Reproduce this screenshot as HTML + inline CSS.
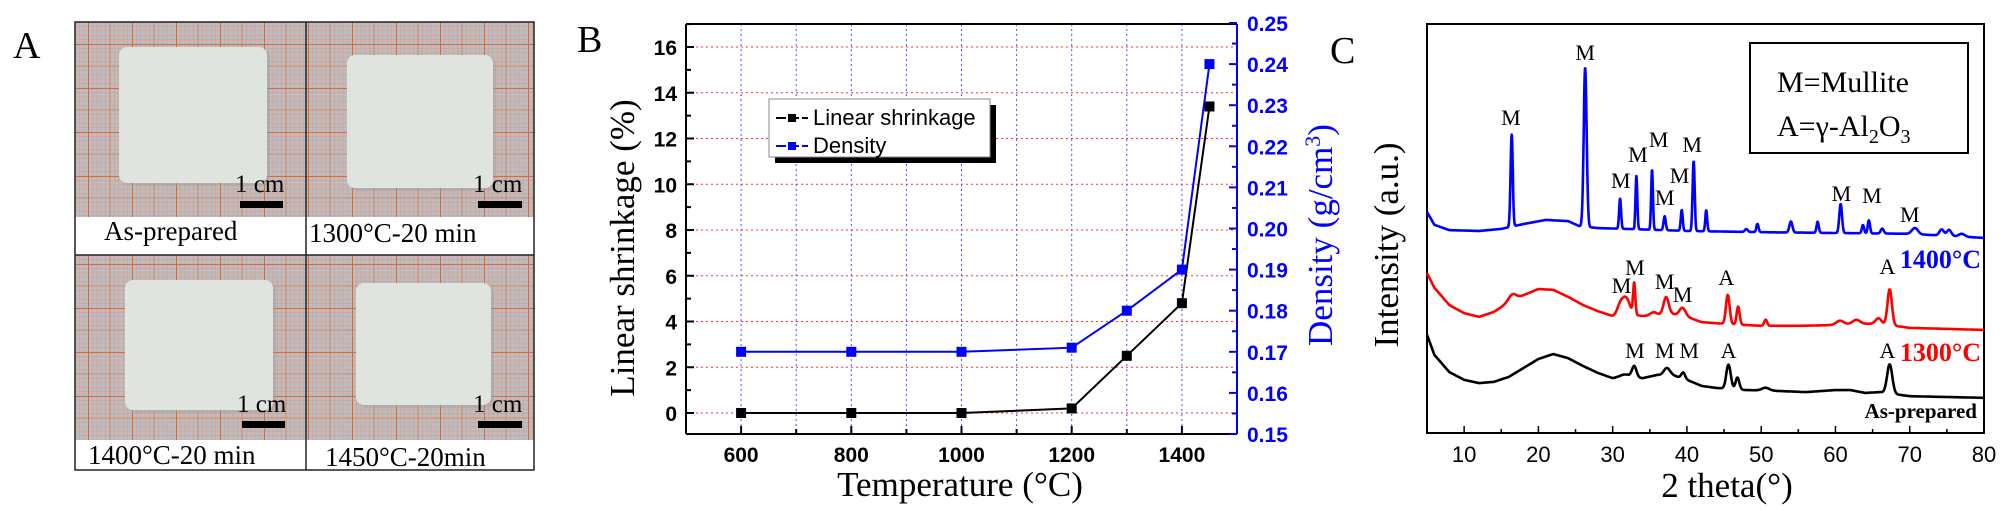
<!DOCTYPE html>
<html><head><meta charset="utf-8">
<style>
html,body{margin:0;padding:0;background:#fff;}
svg{display:block;}
.serif{font-family:"Liberation Serif",serif;}
.sans{font-family:"Liberation Sans",sans-serif;}
</style></head>
<body>
<svg id="fig" width="2005" height="510" viewBox="0 0 2005 510" xmlns="http://www.w3.org/2000/svg">
<defs>
<pattern id="grid" x="0" y="0" width="44" height="44" patternUnits="userSpaceOnUse">
<rect width="44" height="44" fill="#bdbcc0"/>
<path d="M4.4 0V44M8.8 0V44M13.2 0V44M17.6 0V44M26.4 0V44M30.8 0V44M35.2 0V44M39.6 0V44M0 4.4H44M0 8.8H44M0 13.2H44M0 17.6H44M0 26.4H44M0 30.8H44M0 35.2H44M0 39.6H44" stroke="#cfa394" stroke-width="0.7"/>
<path d="M22 0V44M0 22H44" stroke="#d88a60" stroke-width="1.1"/>
<path d="M0 0V44M0 0H44" stroke="#dc6a30" stroke-width="2"/>
</pattern>
</defs>

<!-- Panel A -->
<g>
<text class="serif" x="13" y="58" font-size="38">A</text>
<rect x="75" y="22" width="231" height="195" fill="url(#grid)"/>
<rect x="306" y="22" width="228" height="195" fill="url(#grid)"/>
<rect x="75" y="255" width="231" height="185" fill="url(#grid)"/>
<rect x="306" y="255" width="228" height="185" fill="url(#grid)"/>
<rect x="122" y="50" width="148" height="136" rx="8" fill="#9a9a9c" opacity="0.35"/>
<rect x="119" y="47" width="148" height="136" rx="8" fill="#dfe4de"/>
<rect x="350" y="58" width="146" height="133" rx="8" fill="#9a9a9c" opacity="0.35"/>
<rect x="347" y="55" width="146" height="133" rx="8" fill="#dfe4de"/>
<rect x="128" y="283" width="148" height="130" rx="8" fill="#9a9a9c" opacity="0.35"/>
<rect x="125" y="280" width="148" height="130" rx="8" fill="#dfe4de"/>
<rect x="359" y="286" width="135" height="122" rx="8" fill="#9a9a9c" opacity="0.35"/>
<rect x="356" y="283" width="135" height="122" rx="8" fill="#dfe4de"/>
<rect x="75" y="217" width="459" height="38" fill="#fff"/>
<rect x="75" y="440" width="459" height="30" fill="#fff"/>
<g class="serif" font-size="25" fill="#000">
<text x="235" y="192">1 cm</text>
<text x="473" y="192">1 cm</text>
<text x="237" y="412">1 cm</text>
<text x="473" y="412">1 cm</text>
</g>
<rect x="240" y="201" width="43" height="7" fill="#000"/>
<rect x="478" y="201" width="44" height="7" fill="#000"/>
<rect x="242" y="421" width="43" height="7" fill="#000"/>
<rect x="478" y="421" width="44" height="7" fill="#000"/>
<g class="serif" font-size="27" fill="#000">
<text x="104" y="240">As-prepared</text>
<text x="309" y="242">1300°C-20 min</text>
<text x="88" y="464">1400°C-20 min</text>
<text x="325" y="466">1450°C-20min</text>
</g>
<rect x="75" y="22" width="459" height="448" fill="none" stroke="#222" stroke-width="1.5"/>
<line x1="306" y1="22" x2="306" y2="470" stroke="#222" stroke-width="1.5"/>
<line x1="75" y1="255" x2="534" y2="255" stroke="#222" stroke-width="1.5"/>
</g>

<g id="panelB"></g>
<g id="panelC"></g>
</svg>

<script>
// ---------- Panel B data ----------
const temps = [600, 800, 1000, 1200, 1300, 1400, 1450];
const shrinkage = [0, 0, 0, 0.2, 2.5, 4.8, 13.4];
const density = [0.170, 0.170, 0.170, 0.171, 0.180, 0.190, 0.240];
const xTicksB = [600, 800, 1000, 1200, 1400];
const yTicksL = [0, 2, 4, 6, 8, 10, 12, 14, 16];
const yTicksR = [0.15, 0.16, 0.17, 0.18, 0.19, 0.20, 0.21, 0.22, 0.23, 0.24, 0.25];

// ---------- Panel C data ----------
const xTicksC = [10, 20, 30, 40, 50, 60, 70, 80];
const bg1400 = [[5,54.0],[6,50.9],[8,49.6],[12,49.4],[15,49.9],[18,51.1],[21,52.1],[24,51.8],[25.5,50.6],[28,50.1],[32,49.9],[40,49.4],[50,49.1],[60,48.9],[70,48.7],[80,47.7]];
const peaks1400 = [[16.4,22.5,0.15],[26.3,38.9,0.2],[31,7.3,0.13],[33.2,13.0,0.12],[35.3,14.7,0.12],[37,3.4,0.15],[39.3,5.1,0.13],[40.9,17.1,0.14],[42.6,5.1,0.13],[48,0.7,0.2],[49.5,2.0,0.15],[54,2.7,0.2],[57.6,2.7,0.15],[60.7,7.1,0.18],[63.7,2.0,0.15],[64.5,3.2,0.15],[66.3,1.2,0.2],[70.7,1.5,0.4],[74.3,1.5,0.3],[75.3,1.5,0.3],[77,0.7,0.4]];
const bg1300 = [[5,39.1],[6,35.5],[8,31.3],[10,29.3],[12,28.4],[14,29.6],[16,32.0],[18,33.7],[20,35.2],[22,35.0],[24,33.3],[26,31.3],[28,29.8],[30,28.6],[32,29.1],[34,28.6],[36,28.9],[38,29.1],[40,28.4],[42,27.1],[45,26.7],[50,26.2],[55,26.2],[60,26.4],[63,26.7],[65,26.7],[68,26.2],[70,25.7],[80,25.2]];
const peaks1300 = [[16.5,1.5,0.5],[31,2.2,0.4],[31.8,3.9,0.5],[32.9,7.6,0.15],[35.5,0.7,0.4],[37.2,4.2,0.35],[39.4,2.0,0.4],[45.5,7.1,0.25],[46.9,4.4,0.2],[50.6,1.5,0.2],[60.6,1.0,0.5],[62.8,1.0,0.5],[65.8,1.5,0.4],[67.3,8.8,0.3]];
const bgAs = [[5,24.0],[6,19.1],[8,14.9],[10,13.0],[12,12.2],[14,12.5],[16,13.7],[18,15.9],[20,18.1],[22,19.3],[24,18.3],[26,16.4],[28,14.7],[30,13.4],[32,13.9],[34,13.4],[36,14.2],[38,14.2],[40,13.0],[42,11.5],[44,11.0],[48,10.5],[52,10.3],[56,10.0],[60,10.5],[62,10.5],[64,9.8],[66,10.0],[70,9.0],[75,8.8],[80,8.6]];
const peaksAs = [[31.5,0.5,0.6],[32.9,2.7,0.3],[37.3,1.7,0.4],[39.5,1.5,0.25],[45.6,5.9,0.3],[46.8,2.9,0.25],[50.6,0.7,0.5],[67.3,7.1,0.35]];
const labels1400 = [[16.3,'M',125],[26.3,'M',60],[31.1,'M',188],[33.4,'M',162],[36.2,'M',147],[37,'M',205],[39,'M',183],[40.7,'M',152],[60.8,'M',201],[64.9,'M',203],[70,'M',222]];
const labels1300 = [[31.2,'M',293],[33,'M',275],[37,'M',289],[39.4,'M',302],[45.3,'A',285],[67,'A',274]];
const labelsAs = [[33,'M',358],[37,'M',358],[40.3,'M',358],[45.6,'A',358],[67,'A',358]];

const NS = 'http://www.w3.org/2000/svg';
function mk(parent, tag, attrs, text) {
  const e = document.createElementNS(NS, tag);
  for (const k in attrs) e.setAttribute(k, attrs[k]);
  if (text !== undefined) e.textContent = text;
  parent.appendChild(e);
  return e;
}

// ===== Panel B =====
const B = document.getElementById('panelB');
const bx0 = 686, bx1 = 1237, by0 = 24, by1 = 434;
const xB = t => bx0 + (t - 500) / 1000 * (bx1 - bx0);
const yL = v => 413 - v * 22.875;
const yR = v => 434 - (v - 0.15) * 4110;

let e;
e = mk(B, 'text', {x: 577, y: 52, 'font-size': 38, class: 'serif'}, 'B');



for (let t = 600; t <= 1400; t += 100) {
  e = mk(B, 'line', {x1: xB(t), x2: xB(t), y1: by0, y2: by1, stroke: '#5050ff', 'stroke-width': 1, 'stroke-dasharray': '2,3'});
  
  
}
yTicksL.forEach(v => {
  e = mk(B, 'line', {x1: bx0, x2: bx1, y1: yL(v), y2: yL(v), stroke: '#ff3030', 'stroke-width': 1, 'stroke-dasharray': '2,3'});
  
  
});
mk(B, 'line', {x1: bx0, x2: bx1, y1: by0, y2: by0, stroke: '#000', 'stroke-width': 2});
mk(B, 'line', {x1: bx0, x2: bx1, y1: by1, y2: by1, stroke: '#000', 'stroke-width': 2});
mk(B, 'line', {x1: bx0, x2: bx0, y1: by0, y2: by1, stroke: '#000', 'stroke-width': 2});
mk(B, 'line', {x1: bx1, x2: bx1, y1: by0, y2: by1, stroke: '#0000ff', 'stroke-width': 2});
for (let t = 600; t <= 1400; t += 100) {
  const major = (t % 200 === 0);
  mk(B, 'line', {x1: xB(t), x2: xB(t), y1: by1, y2: by1 - (major ? 8 : 5), stroke: '#000', 'stroke-width': 2});
}
xTicksB.forEach(t => {
  e = mk(B, 'text', {x: xB(t), y: 462, 'text-anchor': 'middle', 'font-size': 21, 'font-weight': 'bold', class: 'sans'}, t);
  
  
});
for (let v = -1; v <= 17; v += 1) {
  const y = yL(v);
  if (y < by0 || y > by1) continue;
  const major = (v % 2 === 0);
  mk(B, 'line', {x1: bx0, x2: bx0 + (major ? 8 : 5), y1: y, y2: y, stroke: '#000', 'stroke-width': 2});
}
yTicksL.forEach(v => {
  e = mk(B, 'text', {x: 677, y: yL(v) + 8, 'text-anchor': 'end', 'font-size': 21, 'font-weight': 'bold', class: 'sans'}, v);
  
  
});
for (let i = 0; i <= 20; i++) {
  const v = 0.15 + i * 0.005;
  const major = (i % 2 === 0);
  mk(B, 'line', {x1: bx1, x2: bx1 - (major ? 8 : 5), y1: yR(v), y2: yR(v), stroke: '#0000ff', 'stroke-width': 2});
}
yTicksR.forEach(v => {
  e = mk(B, 'text', {x: 1247, y: yR(v) + 8, 'font-size': 21, 'font-weight': 'bold', fill: '#0000ff', class: 'sans'}, v.toFixed(2));
  
  
});
e = mk(B, 'text', {x: 0, y: 0, transform: 'translate(634,248) rotate(-90)', 'text-anchor': 'middle', 'font-size': 35, class: 'serif'}, 'Linear shrinkage (%)');


e = mk(B, 'text', {x: 0, y: 0, transform: 'translate(1332,235) rotate(-90)', 'text-anchor': 'middle', 'font-size': 35, fill: '#0000ff', class: 'serif'}, 'Density (g/cm');


mk(e, 'tspan', {dy: -12, 'font-size': 22}, '3');
mk(e, 'tspan', {dy: 12}, ')');
e = mk(B, 'text', {x: 960, y: 496, 'text-anchor': 'middle', 'font-size': 35, class: 'serif'}, 'Temperature (°C)');


function series(vals, yf, color, name) {
  const pts = temps.map((t, i) => xB(t) + ',' + yf(vals[i])).join(' ');
  e = mk(B, 'polyline', {points: pts, fill: 'none', stroke: color, 'stroke-width': 2});
  
  
  temps.forEach((t, i) => {
    e = mk(B, 'rect', {x: xB(t) - 5, y: yf(vals[i]) - 5, width: 10, height: 10, fill: color});
    
    
  });
}
series(shrinkage, yL, '#000', 'shrinkage');
series(density, yR, '#0000ff', 'density');
const lg = mk(B, 'g', {});


mk(lg, 'rect', {x: 775, y: 105, width: 221, height: 58, fill: '#000'});
mk(lg, 'rect', {x: 769, y: 99, width: 221, height: 58, fill: '#fff', stroke: '#888', 'stroke-width': 1});
mk(lg, 'line', {x1: 776, x2: 808, y1: 118, y2: 118, stroke: '#000', 'stroke-width': 2, 'stroke-dasharray': '10,3'});
mk(lg, 'rect', {x: 788, y: 114, width: 8, height: 8, fill: '#000'});
e = mk(lg, 'text', {x: 813, y: 125, 'font-size': 22, class: 'sans'}, 'Linear shrinkage');


mk(lg, 'line', {x1: 776, x2: 808, y1: 146, y2: 146, stroke: '#0000ff', 'stroke-width': 2, 'stroke-dasharray': '10,3'});
mk(lg, 'rect', {x: 788, y: 142, width: 8, height: 8, fill: '#0000ff'});
e = mk(lg, 'text', {x: 813, y: 153, 'font-size': 22, class: 'sans'}, 'Density');



// ===== Panel C =====
const C = document.getElementById('panelC');
const cx0 = 1427, cx1 = 1984, cy0 = 24, cy1 = 433;
const xC = d => cx0 + (d - 5) / 75 * (cx1 - cx0);
const yC = v => cy1 - v / 100 * (cy1 - cy0);

e = mk(C, 'text', {x: 1330, y: 63, 'font-size': 38, class: 'serif'}, 'C');


mk(C, 'rect', {x: cx0, y: cy0, width: cx1 - cx0, height: cy1 - cy0, fill: 'none', stroke: '#000', 'stroke-width': 2});
for (let d = 10; d <= 80; d += 5) {
  mk(C, 'line', {x1: xC(d), x2: xC(d), y1: cy1, y2: cy1 - (d % 10 === 0 ? 7 : 4), stroke: '#000', 'stroke-width': 1.5});
}
xTicksC.forEach(d => {
  e = mk(C, 'text', {x: xC(d), y: 462, 'text-anchor': 'middle', 'font-size': 22, class: 'sans'}, d);
  
  
});
e = mk(C, 'text', {x: 1727, y: 497, 'text-anchor': 'middle', 'font-size': 35, class: 'serif'}, '2 theta(°)');


e = mk(C, 'text', {x: 0, y: 0, transform: 'translate(1398,245) rotate(-90)', 'text-anchor': 'middle', 'font-size': 35, class: 'serif'}, 'Intensity (a.u.)');



function bgAt(bg, d) {
  for (let i = 0; i < bg.length - 1; i++) {
    if (d >= bg[i][0] && d <= bg[i + 1][0]) {
      const f = (d - bg[i][0]) / (bg[i + 1][0] - bg[i][0]);
      return bg[i][1] + f * (bg[i + 1][1] - bg[i][1]);
    }
  }
  return bg[bg.length - 1][1];
}
function trace(bg, pk, color, name) {
  let pts = [];
  for (let d = 5; d <= 80.001; d += 0.04) {
    let v = bgAt(bg, d);
    pk.forEach(p => { v += p[1] * Math.exp(-0.5 * Math.pow((d - p[0]) / p[2], 2)); });
    pts.push(xC(d).toFixed(1) + ',' + yC(v).toFixed(1));
  }
  e = mk(C, 'polyline', {points: pts.join(' '), fill: 'none', stroke: color, 'stroke-width': 2.6, 'stroke-linejoin': 'round'});
  
  
}
trace(bg1400, peaks1400, '#0000ff', 'trace-1400');
trace(bg1300, peaks1300, '#ff0000', 'trace-1300');
trace(bgAs, peaksAs, '#000000', 'trace-as-prepared');

function peakLabels(arr, name) {
  arr.forEach(l => {
    e = mk(C, 'text', {x: xC(l[0]), y: l[2], 'text-anchor': 'middle', 'font-size': 22, class: 'serif'}, l[1]);
    
    
  });
}
peakLabels(labels1400, 'peak-label-1400');
peakLabels(labels1300, 'peak-label-1300');
peakLabels(labelsAs, 'peak-label-as-prepared');

e = mk(C, 'text', {x: 1981, y: 268, 'text-anchor': 'end', 'font-size': 26, 'font-weight': 'bold', fill: '#0000ff', class: 'serif'}, '1400°C');


e = mk(C, 'text', {x: 1981, y: 361, 'text-anchor': 'end', 'font-size': 26, 'font-weight': 'bold', fill: '#ff0000', class: 'serif'}, '1300°C');


e = mk(C, 'text', {x: 1977, y: 418, 'text-anchor': 'end', 'font-size': 21, 'font-weight': 'bold', class: 'serif'}, 'As-prepared');



const lc = mk(C, 'g', {});


mk(lc, 'rect', {x: 1750, y: 43, width: 218, height: 110, fill: '#fff', stroke: '#000', 'stroke-width': 2});
e = mk(lc, 'text', {x: 1777, y: 92, 'font-size': 30, class: 'serif'}, 'M=Mullite');


e = mk(lc, 'text', {x: 1777, y: 136, 'font-size': 30, class: 'serif'}, 'A=γ-Al');


mk(e, 'tspan', {dy: 7, 'font-size': 20}, '2');
mk(e, 'tspan', {dy: -7}, 'O');
mk(e, 'tspan', {dy: 7, 'font-size': 20}, '3');
</script>
</body></html>
